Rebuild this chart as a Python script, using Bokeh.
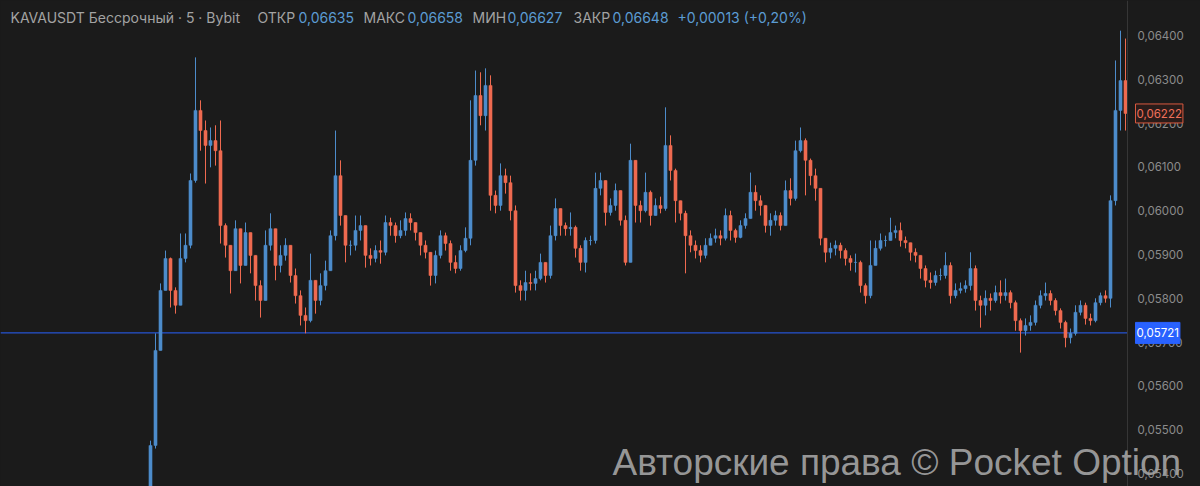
from bokeh.plotting import figure
from bokeh.models import Range1d, LinearAxis, FixedTicker, CustomJSTickFormatter, Label, ColumnDataSource
from bokeh.embed import file_html
from bokeh.resources import INLINE

# ---- data (prices in units of 0.00001) ----
first_open = 5361
closes = [
    5464, 5681, 5818, 5891, 5818, 5784, 5891, 5921, 6069, 6229,
    6183, 6149, 6160, 6137, 5966, 5921, 5863, 5959, 5875, 5950,
    5898, 5829, 5795, 5921, 5959, 5875, 5898, 5921, 5852, 5806,
    5761, 5749, 5841, 5795, 5829, 5863, 5943, 6080, 5989, 5921,
    5921, 5955, 5966, 5898, 5891, 5909, 5905, 5973, 5966, 5943,
    5955, 5982, 5973, 5950, 5921, 5905, 5852, 5898, 5943, 5925,
    5882, 5868, 5909, 5937, 6115, 6263, 6217, 6286, 6035, 6012,
    6080, 6064, 6000, 5829, 5818, 5836, 5834, 5845, 5882, 5852,
    5943, 6005, 5966, 5959, 5962, 5914, 5882, 5932, 5932, 6051,
    6069, 5996, 6012, 6046, 5978, 5882, 6115, 6012, 6000, 6042,
    5989, 6012, 6005, 6149, 6092, 6023, 5994, 5943, 5921, 5909,
    5898, 5921, 5937, 5943, 5937, 5989, 5955, 5939, 5966, 5982,
    6042, 6023, 6012, 5966, 5978, 5989, 5966, 6046, 6028, 6137,
    6160, 6115, 6080, 6051, 5937, 5905, 5914, 5921, 5909, 5891,
    5882, 5882, 5829, 5806, 5875, 5914, 5932, 5932, 5950, 5955,
    5932, 5927, 5905, 5898, 5868, 5841, 5836, 5852, 5852, 5875,
    5806, 5818, 5822, 5829, 5868, 5795, 5784, 5800, 5795, 5813,
    5806, 5813, 5790, 5749, 5726, 5738, 5745, 5784, 5806, 5811,
    5795, 5772, 5745, 5710, 5720, 5768, 5784, 5754, 5749, 5790,
    5806, 5800, 6023, 6229, 6297, 6222,
]
highs = [
    5475, 5720, 5834, 5909, 5893, 5825, 5948, 5948, 6085, 6350,
    6252, 6206, 6190, 6195, 6206, 5971, 5909, 5978, 5959, 5973,
    5950, 5898, 5841, 5955, 5994, 5959, 5921, 5937, 5921, 5868,
    5818, 5779, 5902, 5841, 5857, 5886, 5955, 6183, 6115, 5989,
    5932, 5989, 5989, 5966, 5914, 5921, 5932, 5989, 5984, 5973,
    5978, 5996, 5994, 5973, 5950, 5932, 5905, 5909, 5955, 5950,
    5932, 5898, 5921, 5962, 6252, 6320, 6316, 6325, 6309, 6046,
    6108, 6096, 6080, 6012, 5841, 5863, 5857, 5863, 5902, 5882,
    5966, 6028, 5989, 5973, 5996, 5966, 5921, 5939, 5943, 6087,
    6087, 6069, 6028, 6062, 6046, 5989, 6153, 6115, 6023, 6087,
    6046, 6028, 6032, 6236, 6172, 6096, 6023, 6000, 5955, 5932,
    5921, 5937, 5948, 5959, 5955, 6005, 6000, 5959, 5978, 5994,
    6087, 6058, 6035, 6012, 5994, 6000, 5996, 6069, 6074, 6160,
    6190, 6165, 6119, 6096, 6046, 5937, 5927, 5932, 5927, 5914,
    5898, 5902, 5886, 5834, 5932, 5932, 5948, 5943, 5984, 5966,
    5973, 5941, 5925, 5914, 5898, 5875, 5859, 5863, 5868, 5905,
    5882, 5834, 5836, 5841, 5905, 5875, 5806, 5818, 5811, 5829,
    5841, 5845, 5818, 5795, 5754, 5754, 5761, 5795, 5818, 5836,
    5818, 5800, 5777, 5749, 5731, 5784, 5795, 5790, 5765, 5800,
    5813, 5818, 6035, 6343, 6411, 6393,
]
lows = [
    5350, 5457, 5720, 5818, 5779, 5765, 5784, 5882, 5914, 6064,
    6137, 6062, 6099, 6103, 5925, 5893, 5811, 5882, 5834, 5882,
    5857, 5795, 5756, 5795, 5909, 5841, 5859, 5886, 5836, 5788,
    5738, 5720, 5745, 5765, 5784, 5818, 5882, 5932, 5966, 5882,
    5898, 5909, 5932, 5870, 5875, 5882, 5879, 5898, 5943, 5927,
    5937, 5943, 5955, 5932, 5898, 5891, 5829, 5834, 5891, 5909,
    5863, 5857, 5863, 5905, 5921, 6103, 6195, 6183, 6000, 5994,
    6000, 6039, 5978, 5813, 5795, 5795, 5818, 5818, 5841, 5836,
    5845, 5932, 5943, 5943, 5943, 5893, 5863, 5859, 5921, 5925,
    6035, 5966, 5989, 6000, 5966, 5875, 5882, 5973, 5973, 5996,
    5966, 5989, 5994, 6000, 6069, 5973, 5978, 5857, 5905, 5891,
    5882, 5891, 5921, 5927, 5921, 5932, 5932, 5927, 5937, 5959,
    5982, 6000, 5989, 5950, 5943, 5966, 5955, 5966, 6012, 6023,
    6133, 6035, 6058, 6023, 5921, 5882, 5891, 5898, 5891, 5875,
    5863, 5859, 5813, 5788, 5800, 5882, 5909, 5918, 5932, 5937,
    5918, 5914, 5886, 5882, 5845, 5825, 5822, 5829, 5841, 5845,
    5788, 5800, 5811, 5813, 5818, 5772, 5733, 5761, 5772, 5790,
    5788, 5795, 5777, 5726, 5676, 5715, 5726, 5738, 5777, 5795,
    5784, 5761, 5731, 5688, 5697, 5715, 5761, 5740, 5738, 5745,
    5784, 5790, 5779, 6012, 6183, 6183,
]
tick_values = [0.054, 0.055, 0.056, 0.057, 0.058, 0.059, 0.060, 0.061, 0.062, 0.063, 0.064]
last_price = 0.06222
ref_price = 0.05721
header_parts = [
    ("KAVAUSDT Бессрочный · 5 · Bybit", "label"),
    ("ОТКР", "label"), ("0,06635", "value"),
    ("МАКС", "label"), ("0,06658", "value"),
    ("МИН", "label"), ("0,06627", "value"),
    ("ЗАКР", "label"), ("0,06648", "value"),
    ("+0,00013 (+0,20%)", "value"),
]
watermark = "Авторские права © Pocket Option"

# ---- styling ----
BG = "#1b1b1b"
UP = "#4d8ccb"
DOWN = "#ef6a50"
FONT = "Inter"

n = len(closes)
opens = [first_open] + closes[:-1]
o = [v / 1e5 for v in opens]
c = [v / 1e5 for v in closes]
h = [max(a, b, d) / 1e5 for a, b, d in zip(highs, opens, closes)]
l = [min(a, b, d) / 1e5 for a, b, d in zip(lows, opens, closes)]
idx = list(range(n))
col = [UP if cc >= oo else DOWN for oo, cc in zip(o, c)]
top = [max(a, b) for a, b in zip(o, c)]
bot = [min(a, b) for a, b in zip(o, c)]
src = ColumnDataSource(dict(x=idx, o=o, c=c, h=h, l=l, top=top, bot=bot, col=col))

# pixel geometry helpers (layout only)
PX_PER_UNIT = 43800.0
Y_TOP = 0.064 + 35 / PX_PER_UNIT
Y_BOT = 0.064 - (486 - 35) / PX_PER_UNIT
X0_PX, STEP_PX = 150.0, 5.0
SCALE_X = 1127

def xd(px):
    return (px - X0_PX) / STEP_PX

def yd(py):
    return 0.064 - (py - 35) / PX_PER_UNIT

p = figure(width=1200, height=486, output_backend="svg", toolbar_location=None,
           x_range=Range1d(xd(0), xd(1200)), y_range=Range1d(Y_BOT, Y_TOP),
           x_axis_type=None, y_axis_type=None,
           background_fill_color=BG, border_fill_color=BG,
           min_border_left=0, min_border_right=0,
           min_border_top=0, min_border_bottom=0)
p.outline_line_color = None

ax = LinearAxis(ticker=FixedTicker(ticks=tick_values),
                formatter=CustomJSTickFormatter(code="return tick.toFixed(5).replace('.', ',');"),
                fixed_location=xd(SCALE_X))
ax.axis_line_color = "#363636"
ax.major_tick_line_color = None
ax.minor_tick_line_color = None
ax.major_label_text_color = "#8c8c8c"
ax.major_label_text_font = FONT
ax.major_label_text_font_size = "11.5px"
ax.major_label_standoff = 4
p.add_layout(ax, "right")

# reference price line across the chart area
p.segment(x0=[xd(0)], x1=[xd(SCALE_X)], y0=[ref_price], y1=[ref_price], line_color="#2962ff", line_width=1)

p.segment(x0="x", x1="x", y0="l", y1="h", source=src, line_color="col", line_width=1)
p.vbar(x="x", top="top", bottom="bot", width=0.62, source=src, fill_color="col", line_color="col", line_width=0.5)

# header
starts = [10, 257, 298, 363, 407, 472, 507, 573, 612, 677]
for (txt, kind), sx in zip(header_parts, starts):
    p.add_layout(Label(x=xd(sx), y=yd(17), text=txt, text_baseline="middle", text_align="left",
                       text_color="#a3a3a3" if kind == "label" else "#5b9bd3",
                       text_font=FONT, text_font_size="14px"))

# price tags on the scale
p.add_layout(Label(x=xd(1135), y=last_price, text="0,06222", text_baseline="middle", text_align="left",
                   text_color="#f0705a", text_font=FONT, text_font_size="11.5px",
                   background_fill_color="#2a1c1a", border_line_color="#d9583f", border_line_width=1,
                   padding=(1, 5)))
p.add_layout(Label(x=xd(1135), y=ref_price, text="0,05721", text_baseline="middle", text_align="left",
                   text_color="#ffffff", text_font=FONT, text_font_size="11.5px",
                   background_fill_color="#2962ff", border_line_color="#2962ff", padding=(1, 6)))

# watermark
p.add_layout(Label(x=xd(612), y=yd(462), text=watermark, text_baseline="middle", text_align="left",
                   text_color="#a3a3a3", text_alpha=0.92, text_font="Liberation Sans", text_font_size="37px"))

html = file_html(p, INLINE)
html = html.replace("<head>", "<head><style>html,body{margin:0;padding:0;background:#1b1b1b;overflow:hidden}</style>", 1)
open("out.html", "w").write(html)
